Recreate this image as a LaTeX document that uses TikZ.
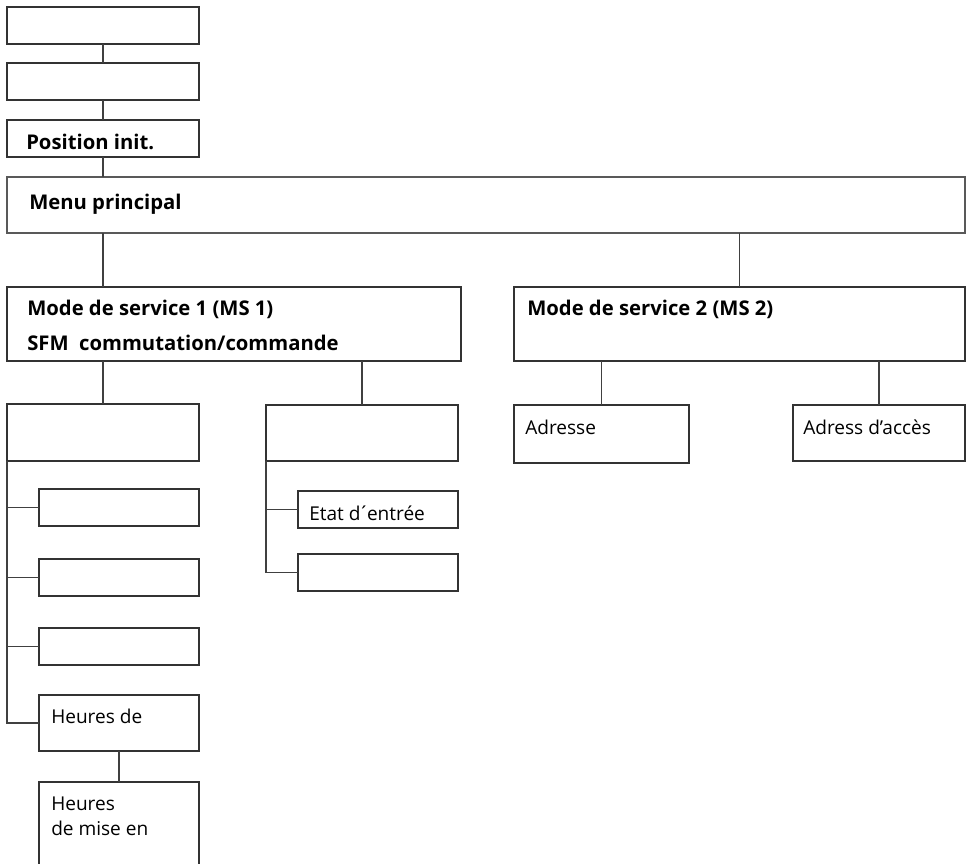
\documentclass[tikz,border=0pt]{standalone}
\usepackage{fontspec}
\setmainfont{Open Sans}
\newcommand\bx[6][]{\pgfmathsetmacro\bw{(#5-#3)*0.75}\pgfmathsetmacro\bh{(#6-#4)*0.75}\node[box,#1,minimum width=\bw pt,minimum height=\bh pt,anchor=north west] (#2) at (#3,#4) {};}
\tikzset{
  box/.style={draw=black!80, line width=0.8pt, inner sep=0pt, outer sep=0pt, fill=white},
  conn/.style={draw=black!75, line width=0.8pt},
  bt/.style={anchor=base west, inner sep=0pt, font=\fontsize{15.2}{18}\selectfont\bfseries},
  rt/.style={anchor=base west, inner sep=0pt, font=\fontsize{14.3}{17}\selectfont},
}
\begin{document}
\begin{tikzpicture}[x=0.75pt,y=-0.75pt]
\useasboundingbox (0,0) rectangle (968,864);
\clip (0,0) rectangle (968,864);
% boxes
\bx{b1}{7}{7}{199}{44}
\bx{b2}{7}{63}{199}{100}
\bx{b3}{7}{120}{199}{157}
\bx[line width=1.2pt,draw=black!65]{menu}{7}{177}{965}{233}
\bx{ms1}{7}{287}{461}{361}
\bx{ms2}{514}{287}{965}{361}
\bx{l1}{7}{404}{199}{461}
\bx{m1}{266}{405}{458}{461}
\bx{adr}{514}{405}{689}{463}
\bx{acc}{793}{405}{965}{461}
\bx{la}{39}{489}{199}{526}
\bx{lb}{39}{559}{199}{596}
\bx{lc}{39}{628}{199}{665}
\bx{hd}{39}{695}{199}{751}
\bx{hm}{39}{782}{199}{880}
\bx{etat}{298}{491}{458}{528}
\bx{mb}{298}{554}{458}{591}
% texts
\node[bt] (t3) at (26,149) {Position init.};
\node[bt] (tmenu) at (29,209) {Menu principal};
\node[bt] (tms1a) at (27,315) {Mode de service 1 (MS 1)};
\node[bt] (tms1b) at (27,350) {SFM\ \ commutation/commande};
\node[bt] (tms2) at (527,315) {Mode de service 2 (MS 2)};
\node[rt] (tadr) at (525,434) {Adresse};
\node[rt] (tacc) at (803,434) {Adress d’accès};
\node[rt] (tetat) at (309,520) {Etat d\kern-0.12em´\kern-0.12em entrée};
\node[rt] (thd) at (51,723) {Heures de};
\node[rt] (thm1) at (51,810) {Heures};
\node[rt] (thm2) at (51,835) {de mise en};
% connectors
\draw[conn] (b1.south) -- (b2.north);
\draw[conn] (b2.south) -- (b3.north);
\draw[conn] (b3.south) -- (b3.south |- menu.north);
\draw[conn] (menu.south -| b3.south) -- (ms1.north -| b3.south);
\draw[conn] (menu.south -| ms2.north) -- (ms2.north);
\draw[conn] (ms1.south -| l1.north) -- (l1.north);
\draw[conn] (ms1.south -| m1.north) -- (m1.north);
\draw[conn] (ms2.south -| adr.north) -- (adr.north);
\draw[conn] (ms2.south -| acc.north) -- (acc.north);
\draw[conn] (l1.south west) |- (hd.west);
\draw[conn] (l1.south west |- la.west) -- (la.west);
\draw[conn] (l1.south west |- lb.west) -- (lb.west);
\draw[conn] (l1.south west |- lc.west) -- (lc.west);
\draw[conn] (m1.south west) |- (mb.west);
\draw[conn] (m1.south west |- etat.west) -- (etat.west);
\draw[conn] (hd.south) -- (hm.north);
\end{tikzpicture}
\end{document}
